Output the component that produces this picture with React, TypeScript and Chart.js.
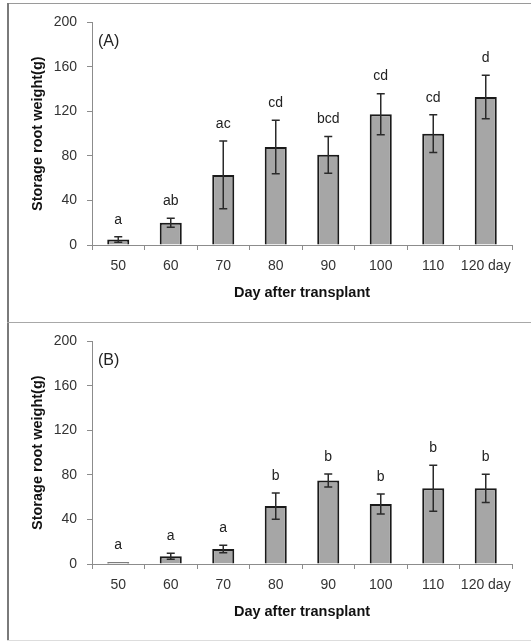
import React, { useEffect, useRef } from "react";
import { Chart, registerables } from "chart.js";

Chart.register(...registerables);

// ---- data ----
const categories = ["50", "60", "70", "80", "90", "100", "110", "120 day"];

const weightA = [5, 20, 63, 88, 81, 117.5, 100, 133];
const errorA = [2.5, 4, 30.5, 24, 16.5, 18.5, 17, 19.5];
const lettersA = ["a", "ab", "ac", "cd", "bcd", "cd", "cd", "d"];

const weightB = [1.5, 7, 13.5, 52, 75, 54, 68, 68];
const errorB = [0, 2.7, 3.4, 11.8, 5.8, 9, 20.7, 12.7];
const lettersB = ["a", "a", "a", "b", "b", "b", "b", "b"];

const yMin = 0;
const yMax = 200;
const yStep = 40;

const xTitle = "Day after transplant";
const yTitle = "Storage root weight(g)";

const FONT = '"Liberation Sans", Arial, sans-serif';

function overlayPlugin(errors: number[], letters: string[], panelLabel: string) {
  return {
    id: "overlay",
    afterDatasetsDraw(chart: any) {
      const ctx = chart.ctx;
      const xs = chart.scales.x;
      const ys = chart.scales.y;
      const values = chart.data.datasets[0].data as number[];
      ctx.save();
      ctx.strokeStyle = "#2a2a2a";
      ctx.lineWidth = 1.5;
      values.forEach((v, i) => {
        const e = errors[i];
        const x = xs.getPixelForValue(i);
        const yt = ys.getPixelForValue(v + e);
        const yb = ys.getPixelForValue(Math.max(v - e, 0));
        if (e > 0) {
          ctx.beginPath();
          ctx.moveTo(x, yt);
          ctx.lineTo(x, yb);
          ctx.moveTo(x - 4, yt);
          ctx.lineTo(x + 4, yt);
          ctx.moveTo(x - 4, yb);
          ctx.lineTo(x + 4, yb);
          ctx.stroke();
        }
        ctx.fillStyle = "#222";
        ctx.font = `14px ${FONT}`;
        ctx.textAlign = "center";
        ctx.textBaseline = "middle";
        ctx.fillText(letters[i], x, yt - 17);
      });
      ctx.fillStyle = "#222";
      ctx.font = `16px ${FONT}`;
      ctx.textAlign = "left";
      ctx.textBaseline = "middle";
      ctx.fillText(panelLabel, chart.chartArea.left + 6, chart.chartArea.top + 19);
      ctx.restore();
    },
  };
}

function Panel(props: { values: number[]; errors: number[]; letters: string[]; label: string; top: number }) {
  const ref = useRef<HTMLCanvasElement | null>(null);
  useEffect(() => {
    if (!ref.current) return;
    const chart = new Chart(ref.current, {
      type: "bar",
      data: {
        labels: categories,
        datasets: [
          {
            data: props.values,
            backgroundColor: "#a6a6a6",
            borderColor: "#1a1a1a",
            borderWidth: 2,
            barPercentage: 0.42,
            categoryPercentage: 1,
          },
        ],
      },
      options: {
        responsive: false,
        animation: false,
        layout: { padding: { top: 16, right: 19, left: 0, bottom: 0 } },
        plugins: { legend: { display: false }, tooltip: { enabled: false } },
        scales: {
          x: {
            afterFit: (s: any) => {
              s.height = 77;
            },
            grid: {
              offset: true,
              drawOnChartArea: false,
              drawTicks: true,
              tickLength: 5,
              color: "#8c8c8c",
            },
            border: { display: true, color: "#8c8c8c", width: 1 },
            ticks: { color: "#333", font: { family: FONT, size: 14 }, padding: 8, maxRotation: 0, autoSkip: false },
            title: {
              display: true,
              text: xTitle,
              color: "#111",
              font: { family: FONT, size: 14.5, weight: "bold" },
              padding: { top: 0, bottom: 20 },
            },
          },
          y: {
            min: yMin,
            max: yMax,
            afterFit: (s: any) => {
              s.width = 84;
            },
            grid: {
              drawOnChartArea: false,
              drawTicks: true,
              tickLength: 5,
              color: "#8c8c8c",
            },
            border: { display: true, color: "#8c8c8c", width: 1 },
            ticks: { stepSize: yStep, color: "#333", font: { family: FONT, size: 14 }, padding: 10 },
            title: {
              display: true,
              text: yTitle,
              color: "#111",
              font: { family: FONT, size: 14.5, weight: "bold" },
              padding: { top: 21, bottom: 0 },
            },
          },
        },
      },
      plugins: [overlayPlugin(props.errors, props.letters, props.label)],
    } as any);
    return () => chart.destroy();
  }, []);
  return (
    <canvas
      ref={ref}
      width={523}
      height={318}
      style={{ position: "absolute", left: 8, top: props.top, width: 523, height: 318, display: "block" }}
    />
  );
}

export default function App() {
  return (
    <div style={{ position: "absolute", left: 0, top: 0, width: 531, height: 641, background: "#fff", overflow: "hidden" }}>
      <div style={{ position: "absolute", left: 7, top: 3, width: 524, height: 1, background: "#9a9a9a" }} />
      <div style={{ position: "absolute", left: 7, top: 3, width: 2, height: 638, background: "#7a7a7a" }} />
      <div style={{ position: "absolute", left: 7, top: 322, width: 524, height: 1, background: "#a8a8a8" }} />
      <div style={{ position: "absolute", left: 7, top: 640, width: 524, height: 1, background: "#dddddd" }} />
      <Panel values={weightA} errors={errorA} letters={lettersA} label="(A)" top={4} />
      <Panel values={weightB} errors={errorB} letters={lettersB} label="(B)" top={323} />
    </div>
  );
}
